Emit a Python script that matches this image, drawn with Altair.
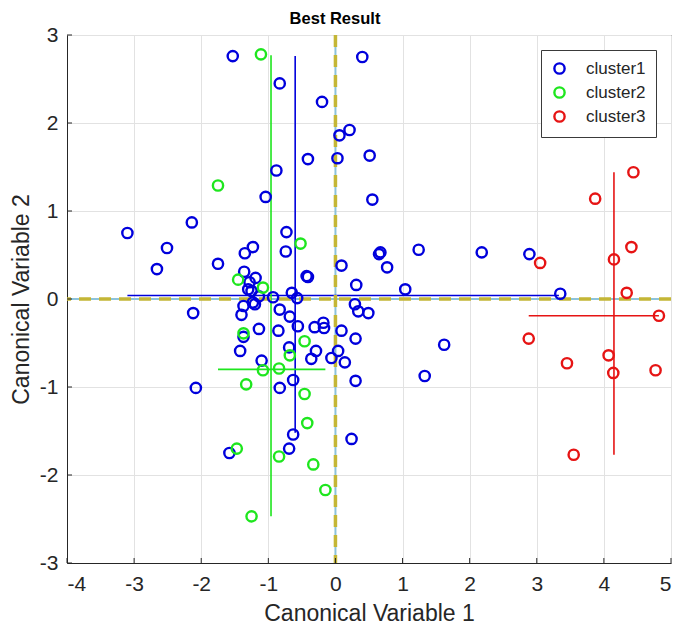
import altair as alt
import pandas as pd

# ---------------- data ----------------
clusters = ["cluster1", "cluster2", "cluster3"]

blue_x = [-1.53, -0.83, -0.20, 0.06, 0.21, 0.40, -0.41, 0.03, 0.51, 0.55, -0.88, -1.04, -2.14, -3.10,
          -2.51, -2.66, -1.75, -1.35, -1.23, -0.73, -0.74, -0.43, -0.41, 0.09, 0.67, 0.65, 0.77, 1.24,
          2.18, 2.89, 1.04, 3.35, -1.36, -1.19, -1.28, 0.31, -1.30, -1.14, -0.93, -0.65, -0.57, -1.23,
          -1.37, 0.29, -0.83, 0.34, 0.49, -1.40, -0.68, -0.56, -0.31, -0.18, -0.17, -1.14, -0.85, -1.37,
          0.09, 0.30, -0.29, 0.04, -1.42, -0.69, -0.36, -0.06, 0.14, -1.10, 0.30, -0.63, -0.83, -2.08,
          -2.12, -0.63, -0.69, 0.24, -1.58, 1.62, 1.33, -1.25, -1.20]
blue_y = [2.76, 2.45, 2.24, 1.86, 1.92, 2.75, 1.59, 1.60, 1.63, 1.13, 1.46, 1.16, 0.87, 0.75,
          0.58, 0.34, 0.40, 0.52, 0.59, 0.76, 0.54, 0.26, 0.25, 0.38, 0.53, 0.51, 0.36, 0.56,
          0.53, 0.51, 0.11, 0.06, 0.31, 0.24, 0.19, 0.16, 0.11, 0.03, 0.02, 0.07, 0.01, -0.04,
          -0.08, -0.06, -0.12, -0.14, -0.16, -0.18, -0.20, -0.31, -0.32, -0.27, -0.33, -0.34, -0.36, -0.43,
          -0.36, -0.45, -0.59, -0.59, -0.59, -0.55, -0.68, -0.67, -0.72, -0.70, -0.93, -0.92, -1.01, -1.01,
          -0.16, -1.54, -1.70, -1.59, -1.75, -0.52, -0.875, 0.09, -0.06]

green_x = [-1.11, -1.75, -0.52, -1.45, -1.08, -1.37, -0.46, -0.68, -1.08, -0.84, -1.33, -0.46,
           -0.42, -1.47, -0.84, -0.33, -0.15, -1.25]
green_y = [2.78, 1.29, 0.63, 0.22, 0.13, -0.39, -0.48, -0.64, -0.81, -0.79, -0.97, -1.08,
           -1.41, -1.70, -1.79, -1.88, -2.17, -2.47]

red_x = [3.05, 4.44, 3.87, 4.41, 4.15, 4.34, 4.82, 2.88, 3.45, 4.07, 4.14, 4.77, 3.55]
red_y = [0.41, 1.44, 1.14, 0.59, 0.45, 0.07, -0.19, -0.45, -0.73, -0.64, -0.84, -0.81, -1.77]

# cross lines of each cluster (centre and extent)
line_cx = [-0.60, -0.96, 4.15]
line_cy = [0.04, -0.80, -0.19]
line_xmin = [-3.10, -1.75, 2.88]
line_xmax = [3.33, -0.15, 4.82]
line_ymin = [-1.52, -2.47, -1.77]
line_ymax = [2.76, 2.77, 1.44]

x_ticks = [-4, -3, -2, -1, 0, 1, 2, 3, 4, 5]
y_ticks = [-3, -2, -1, 0, 1, 2, 3]
zero_lines = [0]

# ---------------- tables ----------------
rows = []
for name, xs_, ys_ in zip(clusters, [blue_x, green_x, red_x], [blue_y, green_y, red_y]):
    for a, b in zip(xs_, ys_):
        rows.append({"cluster": name, "x": a, "y": b})
pts = pd.DataFrame(rows)

lines = pd.DataFrame({"cluster": clusters, "cx": line_cx, "cy": line_cy,
                      "xmin": line_xmin, "xmax": line_xmax,
                      "ymin": line_ymin, "ymax": line_ymax})
xt = pd.DataFrame({"t": x_ticks})
yt = pd.DataFrame({"t": y_ticks})
zl = pd.DataFrame({"v": zero_lines})

FONT = "Liberation Sans"
TXT = "#262626"
colors = ["#0000dc", "#1ee61e", "#e61414"]
cscale = alt.Scale(domain=clusters, range=colors)
xs = alt.Scale(domain=[-4, 5], nice=False, zero=False)
ys = alt.Scale(domain=[-3, 3], nice=False, zero=False)

W, H = 604, 528

base_x = alt.X("x:Q", scale=xs,
               axis=alt.Axis(title="Canonical Variable 1", values=x_ticks, labelExpr="'' + datum.value",
                             grid=True, ticks=False, labelPadding=10, titlePadding=8))
base_y = alt.Y("y:Q", scale=ys,
               axis=alt.Axis(title="Canonical Variable 2", values=y_ticks, labelExpr="'' + datum.value",
                             grid=True, ticks=False, labelPadding=9, titlePadding=6))

points = alt.Chart(pts).mark_point(shape="circle", filled=False, size=105,
                                   strokeWidth=2.4, opacity=1).encode(
    x=base_x,
    y=base_y,
    color=alt.Color("cluster:N", scale=cscale,
                    legend=alt.Legend(title=None, orient="none", legendX=474, legendY=15,
                                      direction="vertical", fillColor="white",
                                      strokeColor="#3a3a3a", padding=10,
                                      labelFontSize=17, labelFont=FONT, labelColor=TXT,
                                      symbolType="circle", symbolSize=105,
                                      symbolStrokeWidth=2.4, symbolFillColor="transparent",
                                      labelOffset=18, rowPadding=3)),
)

cross_layers = []
for i, name in enumerate(clusters):
    sub = lines[lines["cluster"] == name]
    cross_layers.append(alt.Chart(sub).mark_rule(strokeWidth=1.6, color=colors[i]).encode(
        x=alt.X("xmin:Q", scale=xs), x2="xmax:Q", y=alt.Y("cy:Q", scale=ys)))
    cross_layers.append(alt.Chart(sub).mark_rule(strokeWidth=1.6, color=colors[i]).encode(
        x=alt.X("cx:Q", scale=xs), y=alt.Y("ymin:Q", scale=ys), y2="ymax:Q"))

zx_blue = alt.Chart(zl).mark_rule(color="#8cc3da", strokeWidth=2).encode(x=alt.X("v:Q", scale=xs))
zy_blue = alt.Chart(zl).mark_rule(color="#8cc3da", strokeWidth=2).encode(y=alt.Y("v:Q", scale=ys))
zx_dash = alt.Chart(zl).mark_rule(color="#c4b636", strokeWidth=3.5, strokeDash=[12, 8]).encode(
    x=alt.X("v:Q", scale=xs))
zy_dash = alt.Chart(zl).mark_rule(color="#c4b636", strokeWidth=3.5, strokeDash=[12, 8]).encode(
    y=alt.Y("v:Q", scale=ys))

xtick = alt.Chart(xt).mark_rule(color=TXT, strokeWidth=1).encode(
    x=alt.X("t:Q", scale=xs), y=alt.value(H), y2=alt.value(H - 5))
ytick = alt.Chart(yt).mark_rule(color=TXT, strokeWidth=1).encode(
    y=alt.Y("t:Q", scale=ys), x=alt.value(0), x2=alt.value(5))

chart = alt.layer(zx_blue, zy_blue, *cross_layers, zx_dash, zy_dash, xtick, ytick, points).properties(
    width=W, height=H,
    background="white",
    title="Best Result",
    autosize=alt.AutoSizeParams(type="none"),
    padding={"left": 67, "top": 35, "right": 8, "bottom": 69},
).configure_view(stroke=TXT, strokeWidth=1).configure_axis(
    labelFont=FONT, labelFontSize=21, labelColor=TXT,
    titleFont=FONT, titleFontSize=23, titleFontWeight="normal", titleColor=TXT,
    domainColor=TXT, domainWidth=1, gridColor="#e2e2e2", gridWidth=1,
).configure_title(
    font=FONT, fontSize=16.5, fontWeight="bold", color="black", anchor="middle",
    frame="group", offset=-3, dx=-34
)

chart.save("out.html", embed_options={"renderer": "svg", "actions": False})
